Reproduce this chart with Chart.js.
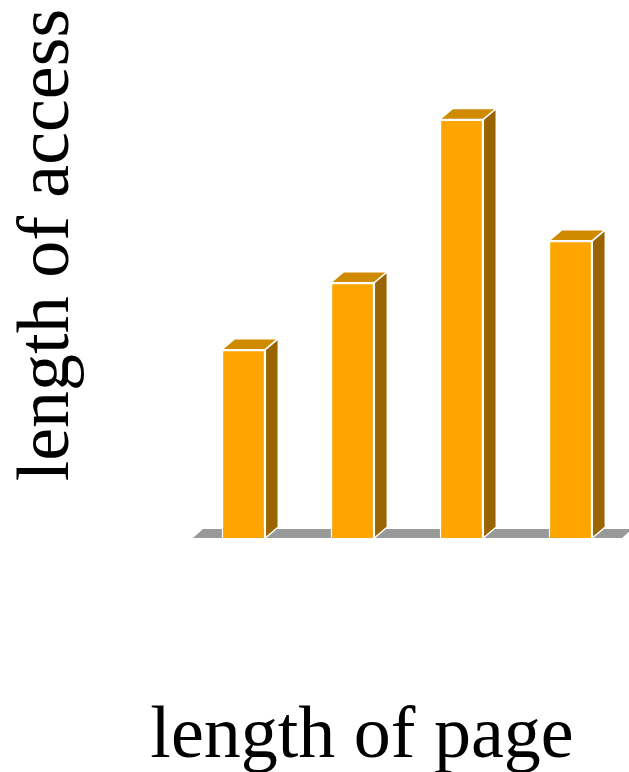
<!DOCTYPE html>
<html>
<head>
<meta charset="utf-8">
<script src="https://cdn.jsdelivr.net/npm/chart.js@4"></script>
<style>
  html, body { margin: 0; padding: 0; background: #ffffff; }
  #chart-container { width: 629px; height: 772px; }
</style>
</head>
<body>
<div id="chart-container"><canvas id="chartAccess" width="629" height="772"></canvas></div>
<script>
// values (no tick labels shown, so relative units)
const pages = ['1', '2', '3', '4'];
const access = [45, 61, 100, 71];

const xTitle = 'length of page';
const yTitle = 'length of access';

// 3d look for the bars: top face, side face and a grey floor
const depthX = 13;
const depthY = 11;

const box3d = {
    id: 'box3d',
    beforeDatasetsDraw(chart) {
        const ctx = chart.ctx;
        const area = chart.chartArea;
        const l = area.left + 4, r = area.right - 3, b = area.bottom;
        ctx.save();
        ctx.fillStyle = '#999999';
        ctx.beginPath();
        ctx.moveTo(l, b);
        ctx.lineTo(r, b);
        ctx.lineTo(r + 10, b - 9);
        ctx.lineTo(l + 10, b - 9);
        ctx.closePath();
        ctx.fill();
        ctx.restore();
    },
    afterDatasetsDraw(chart) {
        const ctx = chart.ctx;
        const meta = chart.getDatasetMeta(0);
        ctx.save();
        ctx.strokeStyle = '#ffffff';
        ctx.lineWidth = 1.5;
        ctx.lineJoin = 'round';
        meta.data.forEach(bar => {
            const x0 = bar.x - bar.width / 2;
            const x1 = bar.x + bar.width / 2;
            const top = bar.y;
            const bottom = bar.base;
            // top
            ctx.fillStyle = '#cf8a00';
            ctx.beginPath();
            ctx.moveTo(x0, top);
            ctx.lineTo(x1, top);
            ctx.lineTo(x1 + depthX, top - depthY);
            ctx.lineTo(x0 + depthX, top - depthY);
            ctx.closePath();
            ctx.fill();
            ctx.stroke();
            // side
            ctx.fillStyle = '#9a6500';
            ctx.beginPath();
            ctx.moveTo(x1, top);
            ctx.lineTo(x1 + depthX, top - depthY);
            ctx.lineTo(x1 + depthX, bottom - depthY);
            ctx.lineTo(x1, bottom);
            ctx.closePath();
            ctx.fill();
            ctx.stroke();
        });
        ctx.restore();
    },
    afterDraw(chart) {
        const ctx = chart.ctx;
        ctx.save();
        ctx.fillStyle = '#000000';
        ctx.font = "74px 'Liberation Serif', 'Times New Roman', serif";
        ctx.textAlign = 'center';
        ctx.textBaseline = 'alphabetic';
        ctx.fillText(xTitle, 362, 757);
        ctx.translate(68, 245);
        ctx.rotate(-Math.PI / 2);
        ctx.fillText(yTitle, 0, 0);
        ctx.restore();
    }
};

const data = {
    labels: pages,
    datasets: [{
        label: yTitle,
        data: access,
        backgroundColor: '#ffa500',
        borderColor: '#ffffff',
        borderWidth: 1.5,
        categoryPercentage: 1,
        barPercentage: 0.4
    }]
};

const options = {
    responsive: false,
    animation: false,
    devicePixelRatio: 1,
    layout: { padding: { left: 189, right: 4, top: 40, bottom: 234 } },
    plugins: {
        legend: { display: false },
        tooltip: { enabled: false }
    },
    scales: {
        x: { display: false },
        y: { display: false, min: 0, max: 119 }
    }
};

const chart = new Chart(document.getElementById('chartAccess').getContext('2d'), {
    type: 'bar', data: data, options: options, plugins: [box3d]
});
</script>
</body>
</html>
